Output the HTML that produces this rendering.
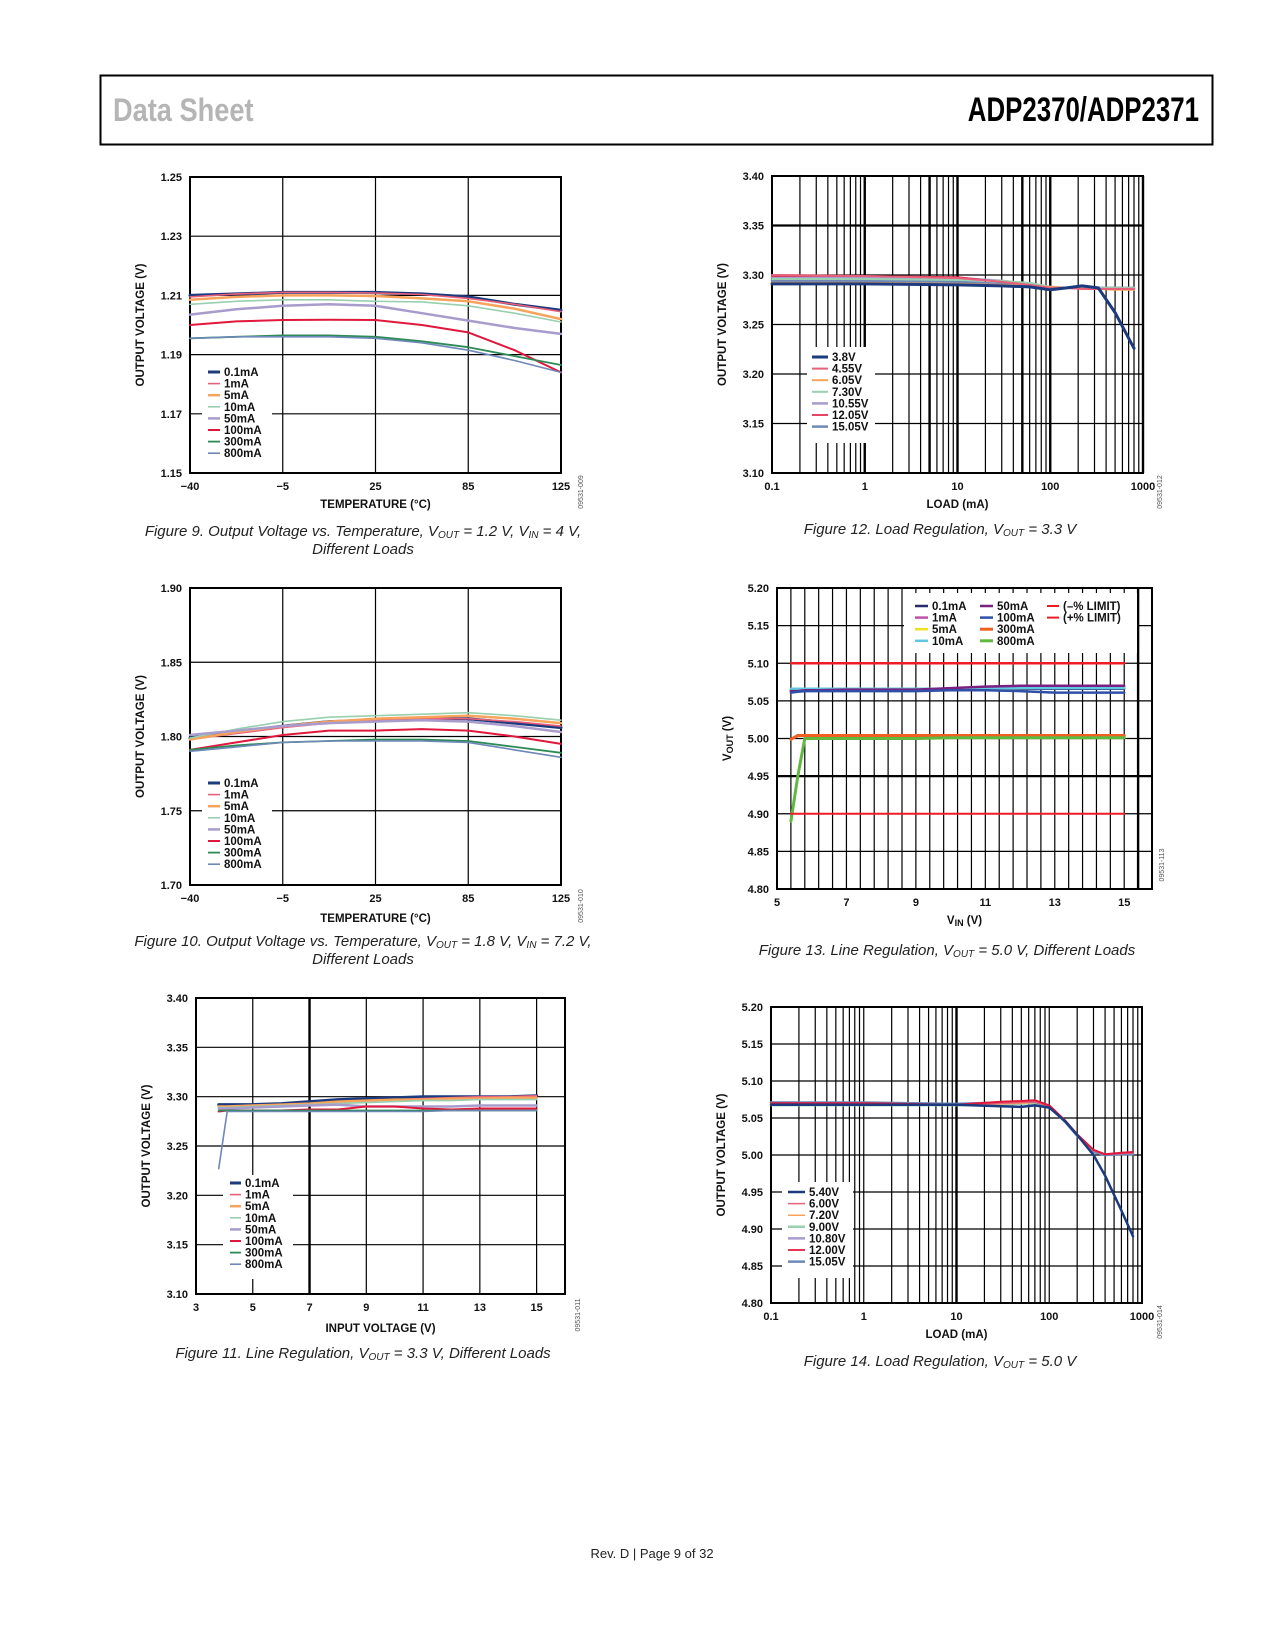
<!DOCTYPE html>
<html><head><meta charset="utf-8"><style>
html,body{margin:0;padding:0;background:#fff;}
svg{display:block;}
text{font-family:"Liberation Sans",Arial,sans-serif;}
.tk{font-size:11px;font-weight:bold;fill:#111;}
.ttl{font-size:11.5px;font-weight:bold;fill:#111;}
.lg{font-size:11.5px;font-weight:bold;fill:#111;}
.cap{font-size:15px;font-style:italic;fill:#222;}
.id{font-size:7px;fill:#555;}
</style></head><body>
<svg id="page" xmlns="http://www.w3.org/2000/svg" width="1275" height="1650" viewBox="0 0 1275 1650">
<rect x="100.5" y="75.5" width="1112" height="69" fill="none" stroke="#000" stroke-width="2"/>
<text x="113" y="121" transform="translate(113 0) scale(0.85 1) translate(-113 0)" style="font-size:32px;font-weight:bold;fill:#b5b5b5">Data Sheet</text>
<text x="1199" y="121" text-anchor="end" transform="translate(1199 0) scale(0.76 1) translate(-1199 0)" style="font-size:34px;font-weight:bold;fill:#000">ADP2370/ADP2371</text>
<text x="652" y="1558" text-anchor="middle" style="font-size:13px;fill:#222">Rev. D | Page 9 of 32</text>
</svg>
<script>
// ---------- DATA ----------
const tempTicks = [-40,-5,25,85,125];
const tempX = [-40,-22.5,-5,10,25,55,85,105,125];
const loadNames = ['0.1mA','1mA','5mA','10mA','50mA','100mA','300mA','800mA'];
const fig9Ticks = [1.15,1.17,1.19,1.21,1.23,1.25];
const fig9_01 = [1.210,1.2105,1.211,1.211,1.211,1.2105,1.2095,1.207,1.205];
const fig9_1 = [1.2095,1.2105,1.211,1.211,1.2108,1.2103,1.209,1.207,1.2045];
const fig9_5 = [1.2085,1.2095,1.210,1.210,1.2098,1.209,1.208,1.2055,1.202];
const fig9_10 = [1.207,1.208,1.2085,1.2085,1.208,1.2078,1.2065,1.204,1.201];
const fig9_50 = [1.2035,1.2053,1.2065,1.207,1.2065,1.204,1.2015,1.199,1.197];
const fig9_100 = [1.200,1.2012,1.2017,1.2018,1.2017,1.200,1.1975,1.1915,1.184];
const fig9_300 = [1.1955,1.196,1.1965,1.1965,1.196,1.1945,1.1925,1.1895,1.1865];
const fig9_800 = [1.1955,1.196,1.196,1.196,1.1955,1.194,1.1915,1.188,1.184];

const fig10Ticks = [1.70,1.75,1.80,1.85,1.90];
const fig10_01 = [1.799,1.803,1.807,1.810,1.811,1.812,1.812,1.809,1.806];
const fig10_1 = [1.798,1.802,1.806,1.809,1.811,1.812,1.812,1.810,1.807];
const fig10_5 = [1.798,1.803,1.807,1.810,1.812,1.813,1.814,1.812,1.809];
const fig10_10 = [1.799,1.805,1.810,1.813,1.814,1.815,1.816,1.814,1.811];
const fig10_50 = [1.801,1.804,1.807,1.809,1.810,1.811,1.810,1.807,1.803];
const fig10_100 = [1.791,1.796,1.801,1.804,1.804,1.805,1.804,1.800,1.795];
const fig10_300 = [1.791,1.794,1.796,1.797,1.798,1.798,1.797,1.793,1.789];
const fig10_800 = [1.790,1.793,1.796,1.797,1.797,1.797,1.796,1.791,1.786];

const fig11X = [3.8,4.1,5,6,7,8,9,10,11,12,13,14,15];
const fig11Ticks = [3.10,3.15,3.20,3.25,3.30,3.35,3.40];
const fig11XTicks = [3,5,7,9,11,13,15];
const fig11_01 = [3.292,3.292,3.292,3.293,3.295,3.297,3.298,3.299,3.300,3.300,3.300,3.300,3.301];
const fig11_1 = [3.285,3.289,3.290,3.291,3.293,3.295,3.296,3.297,3.298,3.299,3.300,3.300,3.301];
const fig11_5 = [3.290,3.290,3.291,3.292,3.293,3.295,3.296,3.297,3.297,3.298,3.298,3.299,3.299];
const fig11_10 = [3.289,3.289,3.290,3.291,3.292,3.293,3.294,3.295,3.296,3.296,3.297,3.297,3.297];
const fig11_50 = [3.288,3.288,3.289,3.290,3.291,3.292,3.290,3.290,3.290,3.290,3.291,3.291,3.291];
const fig11_100 = [3.285,3.286,3.286,3.286,3.287,3.287,3.290,3.290,3.288,3.287,3.288,3.288,3.288];
const fig11_300 = [3.286,3.286,3.286,3.286,3.286,3.286,3.286,3.286,3.286,3.286,3.286,3.286,3.286];
const fig11_800 = [3.227,3.285,3.285,3.285,3.285,3.285,3.285,3.285,3.285,3.286,3.286,3.286,3.286];

const loadX12 = [0.1,1,10,30,60,100,150,220,330,500,800];
const vinNames12 = ['3.8V','4.55V','6.05V','7.30V','10.55V','12.05V','15.05V'];
const fig12_38 = [3.291,3.291,3.290,3.289,3.288,3.285,3.287,3.289,3.287,3.262,3.226];
const fig12_455 = [3.300,3.299,3.297,3.293,3.290,3.287,3.287,3.286,3.286,3.286,3.286];
const fig12_605 = [3.292,3.292,3.291,3.290,3.289,3.288,3.287,3.286,3.286,3.285,3.285];
const fig12_730 = [3.296,3.296,3.295,3.294,3.292,3.288,3.287,3.287,3.287,3.287,3.287];
const fig12_1055 = [3.298,3.298,3.297,3.294,3.291,3.288,3.287,3.287,3.287,3.287,3.287];
const fig12_1205 = [3.299,3.299,3.298,3.293,3.290,3.287,3.287,3.286,3.286,3.286,3.286];
const fig12_1505 = [3.294,3.294,3.293,3.291,3.289,3.287,3.287,3.287,3.287,3.287,3.287];

const vinX13 = [5.4,5.6,5.8,6.2,7,8,9,10,11,12,13,14,15];
const fig13Ticks = [4.80,4.85,4.90,4.95,5.00,5.05,5.10,5.15,5.20];
const fig13XTicks = [5,7,9,11,13,15];
const fig13_01 = [5.065,5.065,5.065,5.065,5.065,5.065,5.065,5.065,5.066,5.066,5.066,5.066,5.066];
const fig13_1 = [5.063,5.063,5.064,5.064,5.065,5.065,5.065,5.066,5.067,5.067,5.068,5.068,5.068];
const fig13_5 = [5.065,5.065,5.065,5.065,5.065,5.065,5.065,5.066,5.067,5.067,5.068,5.068,5.068];
const fig13_10 = [5.066,5.066,5.066,5.066,5.066,5.066,5.066,5.066,5.067,5.067,5.067,5.067,5.067];
const fig13_50 = [5.063,5.063,5.064,5.064,5.065,5.065,5.065,5.067,5.069,5.070,5.070,5.070,5.070];
const fig13_100 = [5.061,5.062,5.063,5.063,5.063,5.063,5.063,5.064,5.064,5.063,5.061,5.061,5.061];
const fig13_300 = [4.999,5.004,5.004,5.004,5.004,5.004,5.004,5.004,5.004,5.004,5.004,5.004,5.004];
const fig13_800 = [4.890,4.950,5.000,5.000,5.000,5.000,5.000,5.001,5.001,5.001,5.001,5.001,5.001];
const limitX13 = [5.4,15];
const limitLo = [4.90,4.90];
const limitHi = [5.10,5.10];

const loadX14 = [0.1,1,10,30,50,70,100,150,200,300,400,600,800];
const vinNames14 = ['5.40V','6.00V','7.20V','9.00V','10.80V','12.00V','15.05V'];
const fig14_540 = [5.068,5.068,5.068,5.066,5.065,5.067,5.064,5.045,5.027,5.000,4.972,4.925,4.890];
const fig14_600 = [5.070,5.069,5.068,5.070,5.071,5.072,5.066,5.045,5.027,5.006,5.001,5.002,5.003];
const fig14_720 = [5.069,5.069,5.068,5.069,5.070,5.071,5.066,5.045,5.027,5.006,5.001,5.002,5.003];
const fig14_900 = [5.067,5.067,5.067,5.068,5.069,5.070,5.066,5.045,5.027,5.005,5.001,5.001,5.002];
const fig14_1080 = [5.071,5.070,5.068,5.071,5.072,5.072,5.066,5.045,5.027,5.005,5.001,5.001,5.002];
const fig14_1200 = [5.070,5.070,5.068,5.072,5.073,5.074,5.067,5.046,5.028,5.007,5.001,5.003,5.004];
const fig14_1505 = [5.071,5.071,5.069,5.071,5.072,5.072,5.066,5.044,5.026,5.004,5.000,5.001,5.001];
const logTickLabels = ['0.1','1','10','100','1000'];

// ---------- DRAW ----------
const NS='http://www.w3.org/2000/svg';
const svg=document.getElementById('page');
function mk(tag,parent){const e=document.createElementNS(NS,tag);parent.appendChild(e);return e;}
function at(e,o){for(const k in o)e.setAttribute(k,o[k]);}
const loadColors=['#1c3a7e','#e8607a','#f7a35c','#98d0b0','#a89ccc','#e0183c','#2e8b57','#6e88b8'];
const loadW=[3,1.6,2.5,1.6,2.5,2,1.8,1.6];
const vinColors=['#1c3a7e','#e8607a','#f7a35c','#98d0b0','#a89ccc','#e0183c','#6e88b8'];
const vinW=[3,2,2,2,2.5,1.6,2.5];

function tempScale(v){
  for(let i=0;i<tempTicks.length-1;i++){
    if(v<=tempTicks[i+1]){return (i+(v-tempTicks[i])/(tempTicks[i+1]-tempTicks[i]))/(tempTicks.length-1);}
  }
  return 1;
}
function chart(c){
  const g=mk('g',svg);
  
  
  const W=c.r-c.l,H=c.b-c.t;
  const fx=c.xf;
  const X=v=>c.l+fx(v)*W;
  const Y=v=>c.b-(v-c.y0)/(c.y1-c.y0)*H;
  const gg=mk('g',g);
  
  
  c.yTicks.forEach(v=>{const l=mk('line',gg);at(l,{x1:c.l,x2:c.r,y1:Y(v),y2:Y(v),stroke:'#000','stroke-width':(c.thickY&&c.thickY.includes(v))?2.2:1.2});});
  c.xGrid.forEach(v=>{const l=mk('line',gg);at(l,{x1:X(v),x2:X(v),y1:c.t,y2:c.b,stroke:'#000','stroke-width':(c.thickX&&c.thickX.some(t=>Math.abs(t-v)<1e-9))?2.4:1.2});});
  const bg=mk('rect',g);at(bg,{x:c.lgbg[0],y:c.lgbg[1],width:c.lgbg[2],height:c.lgbg[3],fill:'#fff'});
  
  
  const bd=mk('rect',g);at(bd,{x:c.l,y:c.t,width:W,height:H,fill:'none',stroke:'#000','stroke-width':2});
  
  
  c.series.forEach(s=>{
    const p=mk('polyline',g);
    at(p,{points:s.xs.map((x,i)=>X(x).toFixed(1)+','+Y(s.ys[i]).toFixed(1)).join(' '),fill:'none',stroke:s.color,'stroke-width':s.w,'stroke-linejoin':'round','stroke-linecap':'round'});
    
    
  });
  c.legend.forEach((e,i)=>{
    const lg=mk('g',g);
    
    
    const y=e.y;
    const l=mk('line',lg);at(l,{x1:e.x,x2:e.x+e.len,y1:y,y2:y,stroke:e.color,'stroke-width':Math.max(1.5,e.w)});
    const t=mk('text',lg);at(t,{x:e.x+e.len+4,y:y+4,class:'lg'});t.textContent=e.label;
  });
  c.yTicks.forEach(v=>{const t=mk('text',g);at(t,{x:c.l-8,y:Y(v)+4,'text-anchor':'end',class:'tk'});t.textContent=v.toFixed(2);
    
    });
  c.xTicks.forEach((v,i)=>{const t=mk('text',g);at(t,{x:X(v),y:c.b+17,'text-anchor':'middle',class:'tk'});t.textContent=c.xLabels[i];
    
    });
  const yt=mk('text',g);at(yt,{x:0,y:0,transform:`translate(${c.l-46},${(c.t+c.b)/2}) rotate(-90)`,'text-anchor':'middle',class:'ttl'});
  
  
  yt.innerHTML=c.ytitle;
  const xt=mk('text',g);at(xt,{x:(c.l+c.r)/2,y:c.xty,'text-anchor':'middle',class:'ttl'});
  
  
  xt.innerHTML=c.xtitle;
  const id=mk('text',g);at(id,{x:0,y:0,transform:`translate(${c.idx},${c.idy}) rotate(-90)`,'text-anchor':'middle',class:'id'});
  
  
  id.textContent=c.id;
  c.caps.forEach((cp,i)=>{const t=mk('text',g);at(t,{x:c.capx,y:c.capy+i*18,'text-anchor':'middle',class:'cap'});
    
    
    t.innerHTML=cp;});
}
const sub=s=>`<tspan font-size="10" dy="2">${s}</tspan><tspan dy="-2"> </tspan>`;
function mkSeries(xs,arrs,keys,colors,ws){return arrs.map((a,i)=>({xs:xs,ys:a,key:keys[i],color:colors[i],w:ws[i]}));}
function mkLegend(names,colors,ws,x,y0,len){return names.map((n,i)=>({key:n,label:n,color:colors[i],w:ws[i],x:x,y:y0+i*11.6,len:len}));}
const linX=(a,b)=>v=>(v-a)/(b-a);
const logX=v=>(Math.log10(v)+1)/4;
const logGrid=[];[0.1,1,10,100].forEach(d=>{for(let m=1;m<10;m++)logGrid.push(m*d);});logGrid.push(1000);

chart({name:'figure-9-chart',l:190,t:177,r:561,b:473,y0:1.15,y1:1.25,yTicks:fig9Ticks,xf:tempScale,xGrid:tempTicks,xTicks:tempTicks,
  xLabels:['\u221240','\u22125','25','85','125'],
  series:mkSeries(tempX,[fig9_01,fig9_1,fig9_5,fig9_10,fig9_50,fig9_100,fig9_300,fig9_800],loadNames,loadColors,loadW),
  legend:mkLegend(loadNames,loadColors,loadW,208,372,12),lgbg:[202,363,70,104],
  ytitle:'OUTPUT VOLTAGE (V)',xtitle:'TEMPERATURE (°C)',xty:508,id:'09531-009',idx:583,idy:492,
  caps:['Figure 9. Output Voltage vs. Temperature, V'+sub('OUT')+'= 1.2 V, V'+sub('IN')+'= 4 V,','Different Loads'],capx:363,capy:536});

chart({name:'figure-10-chart',l:190,t:588,r:561,b:885,y0:1.70,y1:1.90,yTicks:fig10Ticks,xf:tempScale,xGrid:tempTicks,xTicks:tempTicks,
  xLabels:['\u221240','\u22125','25','85','125'],
  series:mkSeries(tempX,[fig10_01,fig10_1,fig10_5,fig10_10,fig10_50,fig10_100,fig10_300,fig10_800],loadNames,loadColors,loadW),
  legend:mkLegend(loadNames,loadColors,loadW,208,783,12),lgbg:[202,774,70,104],
  ytitle:'OUTPUT VOLTAGE (V)',xtitle:'TEMPERATURE (°C)',xty:922,id:'09531-010',idx:583,idy:906,
  caps:['Figure 10. Output Voltage vs. Temperature, V'+sub('OUT')+'= 1.8 V, V'+sub('IN')+'= 7.2 V,','Different Loads'],capx:363,capy:946});

chart({name:'figure-11-chart',l:196,t:998,r:565,b:1294,y0:3.10,y1:3.40,yTicks:fig11Ticks,xf:linX(3,16),xGrid:fig11XTicks,thickX:[7],xTicks:fig11XTicks,
  xLabels:fig11XTicks.map(String),
  series:mkSeries(fig11X,[fig11_01,fig11_1,fig11_5,fig11_10,fig11_50,fig11_100,fig11_300,fig11_800],loadNames,loadColors,loadW),
  legend:mkLegend(loadNames,loadColors,loadW,230,1183,11),lgbg:[223,1175,70,104],
  ytitle:'OUTPUT VOLTAGE (V)',xtitle:'INPUT VOLTAGE (V)',xty:1332,id:'09531-011',idx:580,idy:1315,
  caps:['Figure 11. Line Regulation, V'+sub('OUT')+'= 3.3 V, Different Loads'],capx:363,capy:1358});

chart({name:'figure-12-chart',l:772,t:176,r:1143,b:473,y0:3.10,y1:3.40,yTicks:fig11Ticks,thickY:[3.35],xf:logX,xGrid:logGrid,thickX:[1,5,10,50,100,1000],xTicks:[0.1,1,10,100,1000],
  xLabels:logTickLabels,
  series:mkSeries(loadX12,[fig12_1505,fig12_1055,fig12_730,fig12_605,fig12_1205,fig12_455,fig12_38],['15.05V','10.55V','7.30V','6.05V','12.05V','4.55V','3.8V'],
    [vinColors[6],vinColors[4],vinColors[3],vinColors[2],vinColors[5],vinColors[1],vinColors[0]],[vinW[6],vinW[4],vinW[3],vinW[2],vinW[5],vinW[1],vinW[0]]),
  legend:mkLegend(vinNames12,vinColors,vinW,812,357,16),lgbg:[807,347,68,96],
  ytitle:'OUTPUT VOLTAGE (V)',xtitle:'LOAD (mA)',xty:508,id:'09531-012',idx:1162,idy:492,
  caps:['Figure 12. Load Regulation, V'+sub('OUT')+'= 3.3 V'],capx:940,capy:534});

const c13=['#2a2a6e','#c050a8','#f0e020','#60c8e0','#7a2080','#2f4fa8','#f06020','#60b840'];
const w13=[2.5,2.5,2.5,2.5,2.5,2.5,3,3];
const leg13=loadNames.map((n,i)=>({key:n,label:n,color:c13[i],w:w13[i],x:i<4?915:980,y:606+(i%4)*11.6,len:13}));
leg13.push({key:'minus-limit',label:'(\u2013% LIMIT)',color:'#ee1c25',w:2,x:1047,y:606,len:12});
leg13.push({key:'plus-limit',label:'(+% LIMIT)',color:'#ee1c25',w:2,x:1047,y:617.6,len:12});
const grid13=[];for(let v=5;v<=15.81;v+=0.4)grid13.push(+v.toFixed(2));
const s13=mkSeries(vinX13,[fig13_01,fig13_1,fig13_5,fig13_10,fig13_50,fig13_100,fig13_300,fig13_800],loadNames,c13,w13);
s13.push({xs:limitX13,ys:limitHi,key:'plus-limit',color:'#ee1c25',w:2.5});
s13.push({xs:limitX13,ys:limitLo,key:'minus-limit',color:'#ee1c25',w:2});
chart({name:'figure-13-chart',l:777,t:588,r:1152,b:889,y0:4.80,y1:5.20,yTicks:fig13Ticks,thickY:[4.95],thickX:[15.4],xf:linX(5,15.8),xGrid:grid13,xTicks:fig13XTicks,
  xLabels:fig13XTicks.map(String),series:s13,legend:leg13,lgbg:[904,593,233,60],
  ytitle:'V<tspan font-size="9" dy="2">OUT</tspan><tspan dy="-2"> (V)</tspan>',xtitle:'V<tspan font-size="9" dy="2">IN</tspan><tspan dy="-2"> (V)</tspan>',xty:924,id:'09531-113',idx:1164,idy:865,
  caps:['Figure 13. Line Regulation, V'+sub('OUT')+'= 5.0 V, Different Loads'],capx:947,capy:955});

chart({name:'figure-14-chart',l:771,t:1007,r:1142,b:1303,y0:4.80,y1:5.20,yTicks:fig13Ticks,xf:logX,xGrid:logGrid,thickX:[10],xTicks:[0.1,1,10,100,1000],
  xLabels:logTickLabels,
  series:mkSeries(loadX14,[fig14_900,fig14_720,fig14_1080,fig14_1505,fig14_600,fig14_1200,fig14_540],['9.00V','7.20V','10.80V','15.05V','6.00V','12.00V','5.40V'],
    [vinColors[3],vinColors[2],vinColors[4],vinColors[6],vinColors[1],vinColors[5],vinColors[0]],[2,1.6,2.5,2.5,1.6,2,2.5]),
  legend:mkLegend(vinNames14,vinColors,[2.5,1.5,1.5,2.5,2.5,1.8,2.5],788,1192,17),lgbg:[782,1182,71,96],
  ytitle:'OUTPUT VOLTAGE (V)',xtitle:'LOAD (mA)',xty:1338,id:'09531-014',idx:1162,idy:1322,
  caps:['Figure 14. Load Regulation, V'+sub('OUT')+'= 5.0 V'],capx:940,capy:1366});
</script>
</body></html>
